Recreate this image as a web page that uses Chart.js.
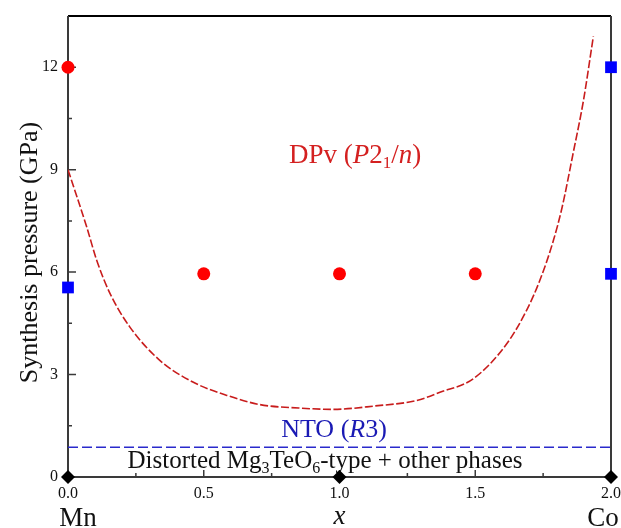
<!DOCTYPE html>
<html>
<head>
<meta charset="utf-8">
<script src="https://cdn.jsdelivr.net/npm/chart.js@4/dist/chart.umd.min.js"></script>
<style>
  html, body { margin: 0; padding: 0; background: #fff; }
  canvas { display: block; }
</style>
</head>
<body>
<canvas id="phaseChart" width="621" height="528"></canvas>
<script>
// ==============================
// DATA
// ==============================
const curveX = [0, 0.069, 0.106, 0.155, 0.228, 0.339, 0.46, 0.585, 0.707, 0.85, 0.976, 1.13, 1.284, 1.37, 1.493, 1.616, 1.689, 1.738, 1.788, 1.82, 1.861, 1.898, 1.935];
const curveY = [9.0, 7.32, 6.34, 5.37, 4.39, 3.41, 2.78, 2.39, 2.12, 2.02, 1.98, 2.08, 2.24, 2.48, 2.88, 3.9, 4.88, 5.76, 6.93, 7.9, 9.5, 11.0, 12.9];

const dpvX = [0, 0.5, 1.0, 1.5];
const dpvY = [12, 5.95, 5.95, 5.95];

const ntoX = [0, 2, 2];
const ntoY = [5.55, 12, 5.95];

const mixX = [0, 1, 2];
const mixY = [0, 0, 0];

const ntoLineX = [0, 2];
const ntoLineY = [0.87, 0.87];

const xTicks = [0, 0.5, 1.0, 1.5, 2.0];
const xTickLabels = ["0.0", "0.5", "1.0", "1.5", "2.0"];
const xMinorTicks = [0.25, 0.75, 1.25, 1.75];
const yTicks = [0, 3, 6, 9, 12];
const yTickLabels = ["0", "3", "6", "9", "12"];
const yMinorTicks = [1.5, 4.5, 7.5, 10.5];

const toPoints = (xs, ys) => xs.map((x, i) => ({ x: x, y: ys[i] }));

const SERIF = "'Liberation Serif', 'Times New Roman', serif";

// ==============================
// RICH TEXT (italic + subscripts)
// ==============================
function drawRich(ctx, parts, cx, baseline, size, color) {
    const fontOf = p => (p.i ? "italic " : "") + Math.round(p.sub ? size * 0.62 : size) + "px " + SERIF;
    let total = 0;
    parts.forEach(p => { ctx.font = fontOf(p); total += ctx.measureText(p.t).width; });
    let x = cx - total / 2;
    ctx.fillStyle = color;
    ctx.textAlign = "left";
    ctx.textBaseline = "alphabetic";
    parts.forEach(p => {
        ctx.font = fontOf(p);
        ctx.fillText(p.t, x, baseline + (p.sub ? size * 0.2 : 0));
        x += ctx.measureText(p.t).width;
    });
}

// ==============================
// AXES: frame, inward ticks, labels
// ==============================
const axesPlugin = {
    id: "axesPlugin",
    beforeDatasetsDraw(chart) {
        const { ctx, chartArea: a, scales: { x, y } } = chart;
        ctx.save();

        // frame
        ctx.strokeStyle = "#000";
        ctx.lineWidth = 2;
        ctx.beginPath();
        ctx.moveTo(a.left, a.top);
        ctx.lineTo(a.right, a.top);
        ctx.stroke();

        ctx.strokeStyle = "#3a3a3a";
        ctx.lineWidth = 2;
        ctx.beginPath();
        ctx.moveTo(a.left, a.top);
        ctx.lineTo(a.left, a.bottom);
        ctx.lineTo(a.right, a.bottom);
        ctx.moveTo(a.right, a.top);
        ctx.lineTo(a.right, a.bottom);
        ctx.stroke();

        // ticks
        ctx.lineWidth = 1.5;
        ctx.beginPath();
        yTicks.forEach(v => { const py = y.getPixelForValue(v); ctx.moveTo(a.left, py); ctx.lineTo(a.left + 8, py); });
        yMinorTicks.forEach(v => { const py = y.getPixelForValue(v); ctx.moveTo(a.left, py); ctx.lineTo(a.left + 4, py); });
        xTicks.forEach(v => { const px = x.getPixelForValue(v); ctx.moveTo(px, a.bottom); ctx.lineTo(px, a.bottom - 7); });
        xMinorTicks.forEach(v => { const px = x.getPixelForValue(v); ctx.moveTo(px, a.bottom); ctx.lineTo(px, a.bottom - 4); });
        ctx.stroke();

        // tick labels
        ctx.fillStyle = "#111";
        ctx.font = "16px " + SERIF;
        ctx.textAlign = "right";
        ctx.textBaseline = "middle";
        yTicks.forEach((v, i) => ctx.fillText(yTickLabels[i], a.left - 10, y.getPixelForValue(v)));
        ctx.textAlign = "center";
        ctx.textBaseline = "top";
        xTicks.forEach((v, i) => ctx.fillText(xTickLabels[i], x.getPixelForValue(v), a.bottom + 9));

        // axis titles
        ctx.font = "27px " + SERIF;
        ctx.textBaseline = "alphabetic";
        ctx.fillText("Mn", 78, 526);
        ctx.fillText("Co", 603, 526);
        ctx.font = "italic 27px " + SERIF;
        ctx.fillText("x", x.getPixelForValue(1), 524);

        ctx.save();
        ctx.translate(37, (a.top + a.bottom) / 2 + 6);
        ctx.rotate(-Math.PI / 2);
        ctx.font = "26px " + SERIF;
        ctx.textAlign = "center";
        ctx.fillText("Synthesis pressure (GPa)", 0, 0);
        ctx.restore();

        // region labels
        drawRich(ctx, [{ t: "DPv (" }, { t: "P", i: true }, { t: "2" }, { t: "1", sub: true }, { t: "/" }, { t: "n", i: true }, { t: ")" }],
            355, 163, 27, "#d42020");
        drawRich(ctx, [{ t: "NTO (" }, { t: "R", i: true }, { t: "3)" }], 334, 437, 26, "#1a1ab4");
        drawRich(ctx, [{ t: "Distorted Mg" }, { t: "3", sub: true }, { t: "TeO" }, { t: "6", sub: true }, { t: "-type + other phases" }],
            325, 468, 25, "#111");

        ctx.restore();
    }
};

// ==============================
// CHART
// ==============================
new Chart(document.getElementById("phaseChart"), {
    type: "scatter",
    data: {
        datasets: [
            {
                type: "line",
                data: toPoints(curveX, curveY),
                borderColor: "#c81c1c",
                borderWidth: 1.6,
                borderDash: [8, 2.5],
                cubicInterpolationMode: "monotone",
                pointRadius: 0,
                fill: false
            },
            {
                type: "line",
                data: toPoints(ntoLineX, ntoLineY),
                borderColor: "#2a2acc",
                borderWidth: 1.5,
                borderDash: [10, 4],
                pointRadius: 0,
                fill: false
            },
            {
                data: toPoints(dpvX, dpvY),
                pointStyle: "circle",
                pointRadius: 6.5,
                backgroundColor: "#ff0000",
                borderWidth: 0,
                clip: false
            },
            {
                data: toPoints(ntoX, ntoY),
                pointStyle: "rect",
                pointRadius: 8.3,
                backgroundColor: "#0000ff",
                borderWidth: 0,
                clip: false
            },
            {
                data: toPoints(mixX, mixY),
                pointStyle: "rectRot",
                pointRadius: 7,
                backgroundColor: "#000",
                borderWidth: 0,
                clip: false
            }
        ]
    },
    options: {
        responsive: false,
        animation: false,
        devicePixelRatio: 1,
        layout: { padding: { left: 68, right: 10, top: 16, bottom: 51 } },
        plugins: { legend: { display: false }, tooltip: { enabled: false } },
        scales: {
            x: { type: "linear", min: 0, max: 2, display: false },
            y: { type: "linear", min: 0, max: 13.5, display: false }
        }
    },
    plugins: [axesPlugin]
});
</script>
</body>
</html>
